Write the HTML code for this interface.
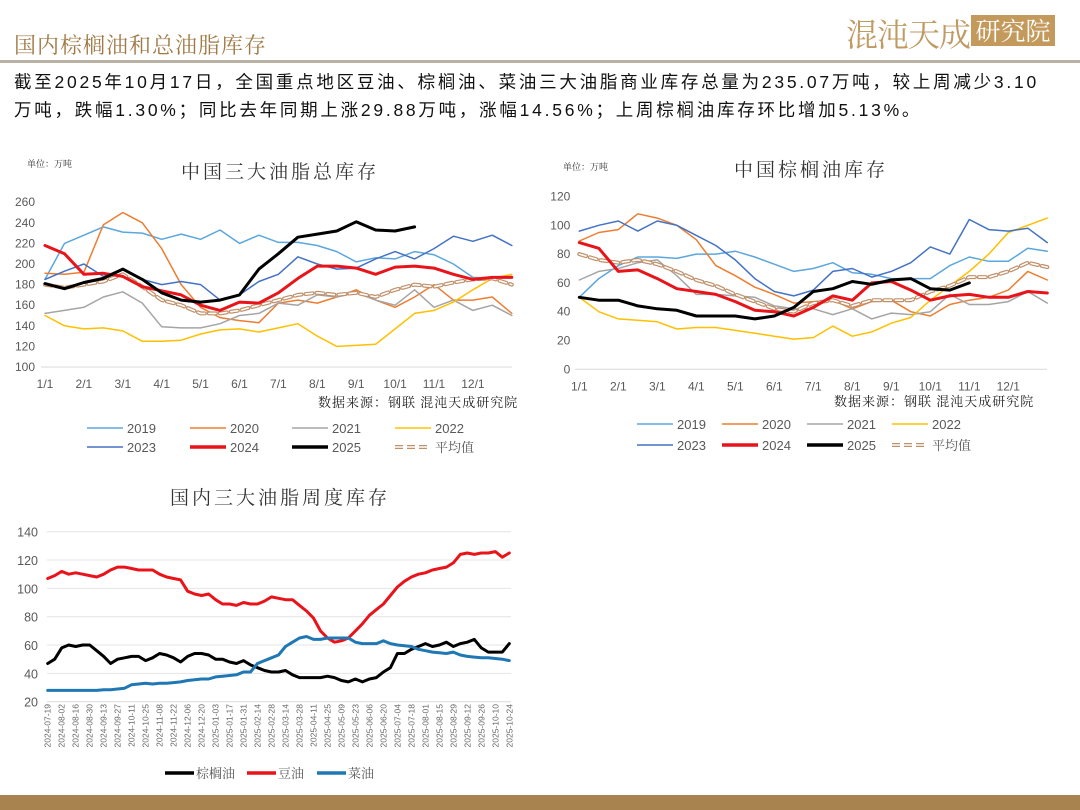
<!DOCTYPE html>
<html><head><meta charset="utf-8">
<style>
html,body{margin:0;padding:0;background:#fff;}
body{width:1080px;height:810px;position:relative;overflow:hidden;font-family:"Liberation Sans","Noto Sans CJK SC",sans-serif;}
.abs{position:absolute;white-space:nowrap;}
</style></head><body>
<div class="abs" style="left:14px;top:29px;font-size:22px;color:#A07A45;font-family:'Liberation Serif','Noto Serif CJK SC',serif;letter-spacing:1px;">国内棕榈油和总油脂库存</div>
<div class="abs" style="left:846px;top:10px;font-size:32px;color:#BF9A62;font-family:'Noto Serif CJK SC',serif;letter-spacing:-1px;">混沌天成</div>
<div class="abs" style="left:971px;top:15px;width:84px;height:31px;background:#C49A5C;color:#fff;font-size:25px;line-height:31px;text-align:center;font-family:'Noto Serif CJK SC',serif;">研究院</div>
<div class="abs" style="left:0;top:60px;width:1080px;height:3px;background:#B9B1A4;"></div>
<div class="abs" style="left:14px;top:68px;font-size:17.5px;line-height:28px;color:#111;letter-spacing:2.75px;">截至2025年10月17日，全国重点地区豆油、棕榈油、菜油三大油脂商业库存总量为235.07万吨，较上周减少3.10<br>万吨，跌幅1.30%；同比去年同期上涨29.88万吨，涨幅14.56%；上周棕榈油库存环比增加5.13%。</div>
<div class="abs" style="left:0;top:795px;width:1080px;height:15px;background:#A8834F;"></div>

<svg id="svg" width="1080" height="810" style="position:absolute;left:0;top:0;" xmlns="http://www.w3.org/2000/svg"></svg>

<script>
// ---- Chart 1: total oils inventory (half-month points) ----
const c1Months = ["1/1","2/1","3/1","4/1","5/1","6/1","7/1","8/1","9/1","10/1","11/1","12/1"];
const c1Ticks = [100,120,140,160,180,200,220,240,260];
const c1_2019 = [185,220,228,236,231,230,224,229,224,233,220,228,221,221,218,212,202,206,205,212,209,200,187,186,188];
const c1_2020 = [191,190,192,238,250,240,215,180,158,148,145,143,162,165,162,168,175,165,158,168,180,165,165,168,152];
const c1_2021 = [152,155,158,168,173,162,139,138,138,142,150,152,162,160,170,168,172,165,160,175,158,165,155,160,150];
const c1_2022 = [150,140,137,138,135,125,125,126,132,136,137,134,138,142,130,120,121,122,137,152,155,163,175,186,190];
const c1_2023 = [185,193,200,188,195,185,180,183,180,165,170,183,190,207,200,195,196,205,212,205,215,227,222,228,218];
const c1_2024 = [218,210,190,191,188,178,174,170,160,155,163,162,172,186,198,198,196,190,197,198,196,190,185,187,187];
const c1_2025 = [181,176,182,186,195,185,172,165,163,165,170,195,210,226,229,232,241,233,232,236];
const c1_avg  = [180,177,180,183,190,178,165,160,152,152,155,160,165,170,172,170,172,168,175,180,178,182,185,186,180];

// ---- Chart 2: palm oil inventory ----
const c2Months = ["1/1","2/1","3/1","4/1","5/1","6/1","7/1","8/1","9/1","10/1","11/1","12/1"];
const c2Ticks = [0,20,40,60,80,100,120];
const c2_2019 = [50,63,72,78,78,77,80,80,82,78,73,68,70,74,67,66,63,63,63,72,78,75,75,84,82];
const c2_2020 = [89,95,97,108,105,100,90,72,65,57,52,46,47,48,42,47,48,40,37,45,48,50,55,68,62];
const c2_2021 = [62,68,70,74,76,65,52,52,51,50,44,42,42,38,42,35,39,38,40,52,45,45,47,54,46];
const c2_2022 = [50,40,35,34,33,28,29,29,27,25,23,21,22,30,23,26,32,36,48,58,68,80,95,100,105];
const c2_2023 = [96,100,103,96,103,100,93,86,76,63,54,51,55,68,70,64,68,74,85,80,104,97,96,98,88];
const c2_2024 = [88,84,68,69,63,56,54,52,47,41,40,37,43,51,48,60,61,55,48,51,52,50,50,54,53];
const c2_2025 = [50,48,48,44,42,41,37,37,37,35,37,43,54,56,61,59,62,63,56,55,60];
const c2_avg  = [80,76,74,76,73,68,62,58,52,47,42,40,46,48,44,48,48,48,54,58,64,64,68,74,71];

// ---- Chart 3: weekly inventory ----
const c3Dates = ["2024-07-19","2024-08-02","2024-08-16","2024-08-30","2024-09-13","2024-09-27","2024-10-11","2024-10-25","2024-11-08","2024-11-22","2024-12-06","2024-12-20","2025-01-03","2025-01-17","2025-01-31","2025-02-14","2025-02-28","2025-03-14","2025-03-28","2025-04-11","2025-04-25","2025-05-09","2025-05-23","2025-06-06","2025-06-20","2025-07-04","2025-07-18","2025-08-01","2025-08-15","2025-08-29","2025-09-12","2025-09-26","2025-10-10","2025-10-24"];
const c3Ticks = [20,40,60,80,100,120,140];
const c3Palm = [47,50,58,60,59,60,60,56,52,47,50,51,52,52,49,51,54,53,51,48,52,54,54,53,50,50,48,47,49,46,44,42,41,41,42,39,37,37,37,37,38,37,35,34,36,34,36,37,41,44,54,54,57,59,61,59,60,62,59,61,62,64,58,55,55,55,61];
const c3Soy = [107,109,112,110,111,110,109,108,110,113,115,115,114,113,113,113,110,108,107,106,98,96,95,96,92,89,89,88,90,89,89,91,94,93,92,92,88,84,79,70,65,62,63,65,70,75,81,85,89,95,101,105,108,110,111,113,114,115,118,124,125,124,125,125,126,122,125];
const c3Rape = [28,28,28,28,28,28,28,28,28.5,28.5,29,29.5,32,32.5,33,32.5,33,33,33.5,34,35,35.5,36,36,37.5,38,38.5,39,41,41,47,49,51,53,59,62,65,66,64,64,65,65,65,65,62,61,61,61,63,61,60,59.5,59,57,56,55,54.5,54,55,53,52,51.5,51,51,50.5,50,49];

const NS = "http://www.w3.org/2000/svg";
const svg = document.getElementById('svg');
function mk(tag, attrs, parent){
  const e = document.createElementNS(NS, tag);
  for (const k in attrs) e.setAttribute(k, attrs[k]);
  (parent||svg).appendChild(e);
  return e;
}
function txt(x,y,s,size,color,anchor,parent,family){
  const t = mk('text',{x:x,y:y,'font-size':size,fill:color,'text-anchor':anchor||'start','font-family':family||'"Liberation Sans","Noto Sans CJK SC",sans-serif'},parent);
  t.textContent = s;
  return t;
}
function poly(vals, xf, yf, color, w, parent, dash){
  const pts = vals.map((v,i)=>xf(i).toFixed(1)+','+yf(v).toFixed(1)).join(' ');
  const a = {points:pts,fill:'none',stroke:color,'stroke-width':w,'stroke-linejoin':'round','stroke-linecap':'round'};
  if (dash) a['stroke-dasharray']=dash;
  return mk('polyline',a,parent);
}
const serif = '"Liberation Serif","Noto Serif CJK SC",serif';
const C = {y2019:'#5BA7DD',y2020:'#ED7D31',y2021:'#A5A5A5',y2022:'#FFC000',y2023:'#4472C4',y2024:'#E8141A',y2025:'#000000',avg:'#C0906A'};

function seasonal(cfg){
  const g = mk('g',{});
  
  
  const xf = i => cfg.x0 + i/2*cfg.mw;
  const yf = v => cfg.yBase - (v-cfg.vmin)*cfg.k;
  const ut = txt(cfg.unitX, cfg.unitY, '单位：万吨', 9, '#333', 'start', g, serif);
  
  
  const tt = txt(cfg.titleX, cfg.titleY, cfg.title, 19, '#333', 'middle', g, serif);
  tt.setAttribute('letter-spacing', '3');
  
  
  const ax = mk('line',{x1:cfg.x0-4,x2:cfg.xEnd,y1:cfg.yBase,y2:cfg.yBase,stroke:'#D9D9D9','stroke-width':1},g);
  
  
  cfg.ticks.forEach(v=>{
    const t = txt(cfg.x0-cfg.labOff, yf(v)+4, String(v), 12, '#595959', 'end', g);
    
    
  });
  cfg.months.forEach((m,i)=>{
    const t = txt(xf(i*2), cfg.yBase+21, m, 12, '#595959', 'middle', g);
    
    
  });
  const series = [['2019',cfg.d2019,C.y2019,1.5],['2020',cfg.d2020,C.y2020,1.5],['2021',cfg.d2021,C.y2021,1.5],['2022',cfg.d2022,C.y2022,1.5],['2023',cfg.d2023,C.y2023,1.5]];
  series.forEach(s=>{
    const p = poly(s[1],xf,yf,s[2],s[3],g);
    
    
  });
  const a1 = poly(cfg.avg,xf,yf,C.avg,4,g,'7 4');
  
  
  const a2 = poly(cfg.avg,xf,yf,'#fff',1.6,g,'7 4');
  
  
  const p24 = poly(cfg.d2024,xf,yf,C.y2024,3,g);
  
  
  const p25 = poly(cfg.d2025,xf,yf,C.y2025,3,g);
  
  
  const src = txt(cfg.srcX, cfg.srcY, '数据来源：钢联 混沌天成研究院', 13, '#222', 'start', g, serif);
  src.setAttribute('letter-spacing', '1');
  
  
  const leg = [['2019',C.y2019,1.5],['2020',C.y2020,1.5],['2021',C.y2021,1.5],['2022',C.y2022,1.5],['2023',C.y2023,1.5],['2024',C.y2024,3.5],['2025',C.y2025,3.5],['平均值',C.avg,0]];
  leg.forEach((L,i)=>{
    const col = i%4, row = Math.floor(i/4);
    const lx = cfg.legX[col], ly = cfg.legY[row];
    const lg = mk('g',{},g);
    
    
    if (L[2]>0){
      mk('line',{x1:lx,x2:lx+36,y1:ly,y2:ly,stroke:L[1],'stroke-width':L[2]},lg);
    } else {
      mk('line',{x1:lx,x2:lx+36,y1:ly,y2:ly,stroke:L[1],'stroke-width':4,'stroke-dasharray':'8 4'},lg);
      mk('line',{x1:lx,x2:lx+36,y1:ly,y2:ly,stroke:'#fff','stroke-width':1.6,'stroke-dasharray':'8 4'},lg);
    }
    txt(lx+40, ly+5, L[0], 13, '#595959', 'start', lg, L[0]==='平均值'?serif:undefined);
  });
}

seasonal({name:'chart-total-oil-inventory',x0:45,mw:38.9,xEnd:512,yBase:367,vmin:100,k:20.6/20,ticks:c1Ticks,months:c1Months,
  d2019:c1_2019,d2020:c1_2020,d2021:c1_2021,d2022:c1_2022,d2023:c1_2023,d2024:c1_2024,d2025:c1_2025,avg:c1_avg,
  title:'中国三大油脂总库存',titleX:280,titleY:178,unitX:27,unitY:167,labOff:10,srcX:318,srcY:407,
  legX:[87,190,292,395],legY:[428,447]});
seasonal({name:'chart-palm-oil-inventory',x0:579.3,mw:39,xEnd:1047,yBase:369.3,vmin:0,k:28.8/20,ticks:c2Ticks,months:c2Months,
  d2019:c2_2019,d2020:c2_2020,d2021:c2_2021,d2022:c2_2022,d2023:c2_2023,d2024:c2_2024,d2025:c2_2025,avg:c2_avg,
  title:'中国棕榈油库存',titleX:811,titleY:176,unitX:563,unitY:170,labOff:9,srcX:834,srcY:406,
  legX:[637,722,807,892],legY:[424,445]});

// chart 3
(function(){
  const g = mk('g',{});
  
  
  const x0 = 47.7, wstep = (509.3-47.7)/(c3Palm.length-1);
  const xf = i => x0 + i*wstep;
  const yf = v => 701.7 - (v-20)*(28.33/20);
  const tt = txt(280, 504, '国内三大油脂周度库存', 19, '#333', 'middle', g, serif);
  tt.setAttribute('letter-spacing', '3');
  
  
  c3Ticks.forEach(v=>{
    const l = mk('line',{x1:47,x2:511,y1:yf(v),y2:yf(v),stroke:v===20?'#D9D9D9':'#E4E4E4','stroke-width':1},g);
    
    
    const t = txt(38, yf(v)+5, String(v), 12.5, '#595959', 'end', g);
    
    
  });
  c3Dates.forEach((d,k)=>{
    const x = xf(k*2);
    const t = txt(0, 0, d, 8.5, '#666', 'end', g);
    t.setAttribute('transform', 'translate('+(x+3)+',704) rotate(-90)');
    
    
  });
  const s = [['palm-oil',c3Palm,'#000'],['soybean-oil',c3Soy,'#E8141A'],['rapeseed-oil',c3Rape,'#1F77B4']];
  s.forEach(S=>{
    const p = poly(S[1],xf,yf,S[2],3,g);
    
    
  });
  const leg = [['棕榈油','#000',165],['豆油','#E8141A',247],['菜油','#1F77B4',317]];
  leg.forEach(L=>{
    const lg = mk('g',{},g);
    
    
    mk('line',{x1:L[2],x2:L[2]+29,y1:773,y2:773,stroke:L[1],'stroke-width':3.5},lg);
    txt(L[2]+31, 778, L[0], 13, '#555', 'start', lg, serif);
  });
})();
</script>
</body></html>
